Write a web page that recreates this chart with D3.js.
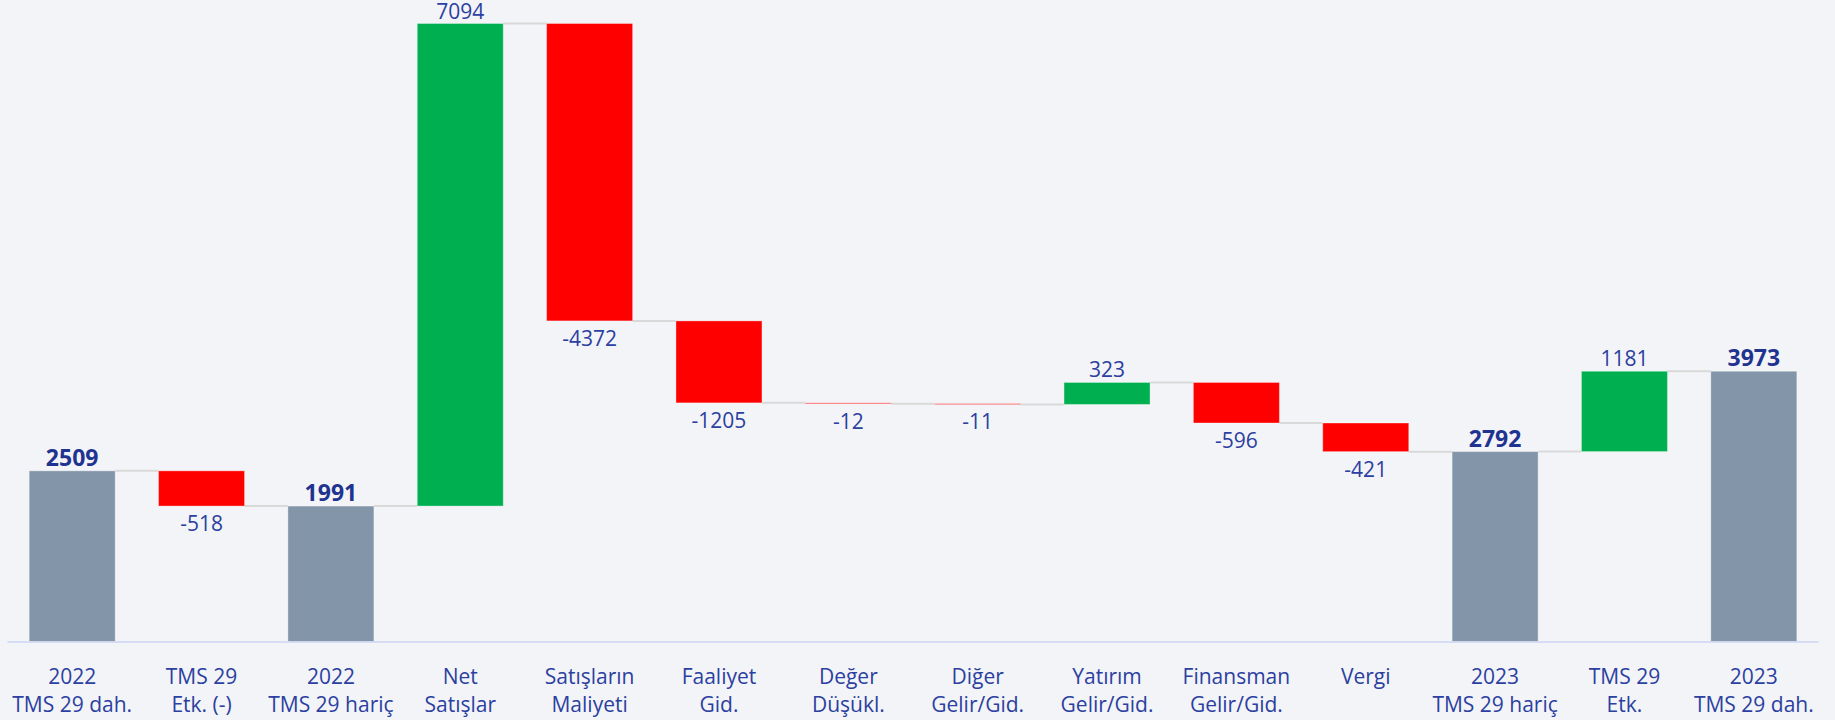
<!DOCTYPE html>
<html>
<head>
<meta charset="utf-8">
<script src="https://cdn.jsdelivr.net/npm/d3@7"></script>
<style>
  html, body { margin: 0; padding: 0; background: #f3f4f7; }
  svg { display: block; }
  text { font-family: "Open Sans", "Noto Sans", sans-serif; }
</style>
</head>
<body>
<svg id="chart" width="1835" height="720"></svg>
<script>
// ---- data ----
const categories = [
  ["2022", "TMS 29 dah."],
  ["TMS 29", "Etk. (-)"],
  ["2022", "TMS 29 hariç"],
  ["Net", "Satışlar"],
  ["Satışların", "Maliyeti"],
  ["Faaliyet", "Gid."],
  ["Değer", "Düşükl."],
  ["Diğer", "Gelir/Gid."],
  ["Yatırım", "Gelir/Gid."],
  ["Finansman", "Gelir/Gid."],
  ["Vergi", ""],
  ["2023", "TMS 29 hariç"],
  ["TMS 29", "Etk."],
  ["2023", "TMS 29 dah."]
];
const values = [2509, -518, 1991, 7094, -4372, -1205, -12, -11, 323, -596, -421, 2792, 1181, 3973];
const isTotal = [true, false, true, false, false, false, false, false, false, false, false, true, false, true];

// ---- layout ----
const W = 1835, H = 720;
const baseY = 641.5, topY = 23.5;
const colors = { total: "#8395a9", up: "#00b050", down: "#ff0000" };

// compute running bars
let run = 0;
const bars = values.map((v, i) => {
  let y0, y1, type;
  if (isTotal[i]) { y0 = 0; y1 = v; run = v; type = "total"; }
  else { y0 = run; y1 = run + v; run = y1; type = v >= 0 ? "up" : "down"; }
  return { i, v, y0, y1, type, end: isTotal[i] ? v : run };
});
const maxVal = d3.max(bars, d => Math.max(d.y0, d.y1));

const x = d3.scaleBand().domain(d3.range(categories.length))
  .range([7.5, 1818.5]).paddingInner(0.335).paddingOuter(0.1675);
const y = d3.scaleLinear().domain([0, maxVal]).range([baseY, topY]);

const svg = d3.select("#chart");

// connectors
const conn = svg.append("g");
bars.slice(0, -1).forEach((d, i) => {
  const level = d.end;
  conn.append("line")
    .attr("x1", x(i) + x.bandwidth()).attr("x2", x(i + 1))
    .attr("y1", y(level)).attr("y2", y(level))
    .attr("stroke", "#d9d9d9").attr("stroke-width", 2);
});

// bars
svg.append("g").selectAll("rect").data(bars).join("rect")
  .attr("x", d => x(d.i))
  .attr("width", x.bandwidth())
  .attr("y", d => y(Math.max(d.y0, d.y1)))
  .attr("height", d => Math.max(0.8, Math.abs(y(d.y0) - y(d.y1))))
  .attr("fill", d => colors[d.type])
  .attr("stroke", "rgba(255,255,255,0.35)")
  .attr("stroke-width", 1);

// baseline
svg.append("line")
  .attr("x1", 7.5).attr("x2", 1818.5)
  .attr("y1", baseY + 0.5).attr("y2", baseY + 0.5)
  .attr("stroke", "#cdd5f3").attr("stroke-width", 1.5);

// value labels
svg.append("g").selectAll("text").data(bars).join("text")
  .attr("x", d => x(d.i) + x.bandwidth() / 2)
  .attr("y", d => d.type === "down" ? y(Math.min(d.y0, d.y1)) + 25 : y(Math.max(d.y0, d.y1)) - 5)
  .attr("text-anchor", "middle")
  .attr("font-size", d => d.type === "total" ? 23 : 21)
  .attr("font-weight", d => d.type === "total" ? 700 : 400)
  .attr("fill", d => d.type === "total" ? "#1f3390" : "#2b40a0")
  .text(d => d.v);

// category labels
const cat = svg.append("g");
categories.forEach((c, i) => {
  const t = cat.append("text")
    .attr("x", x(i) + x.bandwidth() / 2)
    .attr("text-anchor", "middle")
    .attr("font-size", 21)
    .attr("fill", "#2b40a0");
  t.append("tspan").attr("x", x(i) + x.bandwidth() / 2).attr("y", 684).text(c[0]);
  if (c[1]) t.append("tspan").attr("x", x(i) + x.bandwidth() / 2).attr("y", 712).text(c[1]);
});
</script>
</body>
</html>
